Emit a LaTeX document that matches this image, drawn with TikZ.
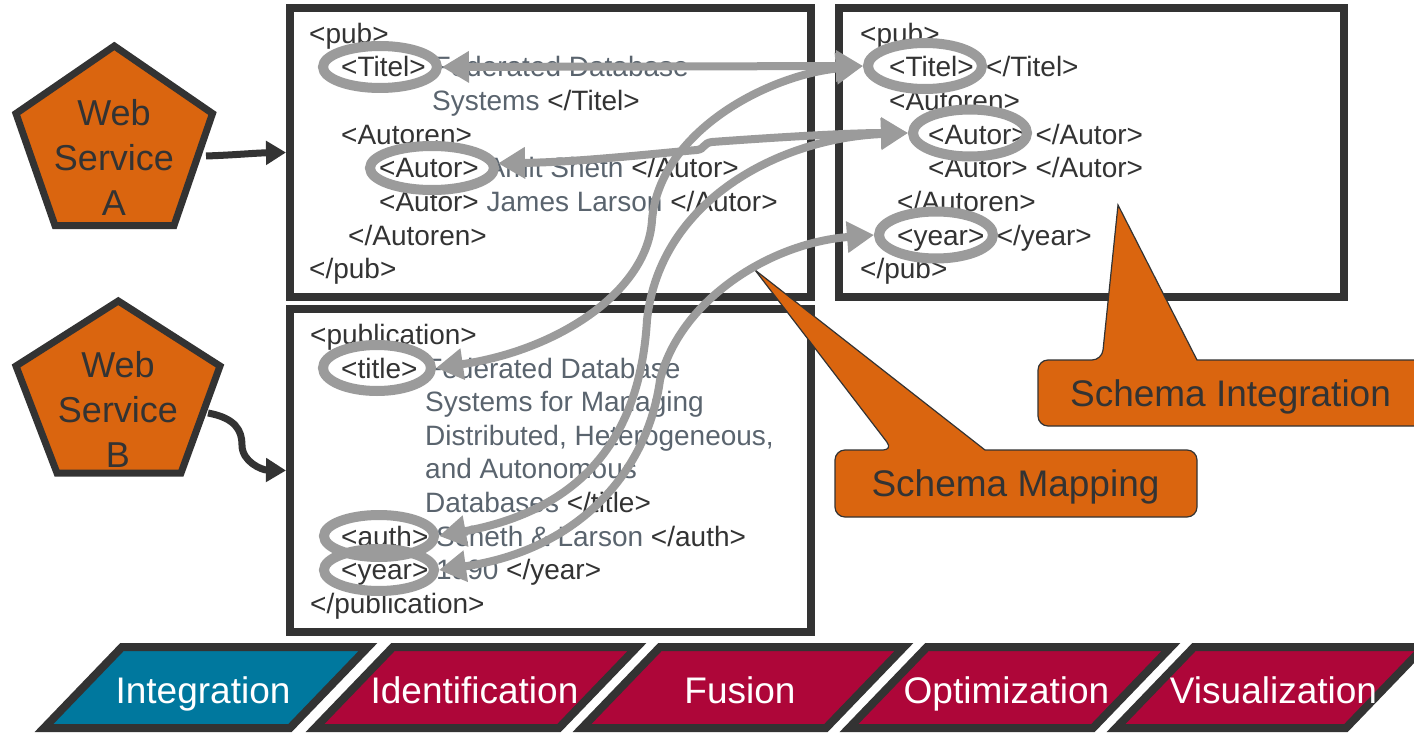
\documentclass[tikz,border=0pt]{standalone}
\usepackage{fontspec}
\setmainfont{Liberation Sans}
\usetikzlibrary{arrows.meta,shapes.geometric}
\definecolor{dk}{HTML}{333333}
\definecolor{gy}{HTML}{5A646E}
\definecolor{gr}{HTML}{9B9B9B}
\definecolor{orng}{HTML}{DA650F}
\definecolor{blu}{HTML}{00789E}
\definecolor{crim}{HTML}{AE0639}
\newcommand\graytxt[1]{\textcolor{gy}{#1}}
\begin{document}
\begin{tikzpicture}[x=1pt,y=-1pt,
  xbox/.style={draw=dk, line width=8pt, fill=white, inner sep=0pt},
  tx/.style={anchor=base west, inner sep=0pt, font=\fontsize{28}{33.6}\selectfont, text=dk},
  ell/.style={ellipse, draw=gr, line width=10pt, inner sep=0pt},
  conn/.style={draw=gr, line width=8pt, {Triangle[length=27pt,width=30pt]}-{Triangle[length=27pt,width=30pt]}},
  darr/.style={draw=dk, line width=7pt, -{Triangle[length=20pt,width=23pt]}},
  pent/.style={fill=orng, draw=dk, line width=7pt, line join=miter},
  wstxt/.style={align=center, font=\fontsize{36}{45}\selectfont, text=dk, inner sep=0pt},
  callout/.style={fill=orng, draw=dk, line width=1.2pt},
  lbl/.style={font=\fontsize{37}{44}\selectfont, text=dk, inner sep=0pt, anchor=base},
  bar/.style={draw=dk, line width=8pt, line join=miter},
  bartxt/.style={font=\fontsize{37}{44}\selectfont, text=white, inner sep=0pt, anchor=base}]
\useasboundingbox (0,0) rectangle (1414,733);
\clip (0,0) rectangle (1414,733);
\fill[white] (0,0) rectangle (1414,733);

% boxes
\node[xbox, minimum width=521pt, minimum height=289pt] (boxTL) at (550.5,152.5) {};
\node[xbox, minimum width=521pt, minimum height=323pt] (boxBL) at (550.5,470.5) {};
\node[xbox, minimum width=505pt, minimum height=289pt] (boxTR) at (1091.5,152.5) {};

% top-left text
\node[tx] (tl1) at (309,43.4) {<pub>};
\node[tx] (tl2) at (341,77) {<Titel> \graytxt{Federated Database}};
\node[tx] (tl3) at (432,110.6) {\graytxt{Systems} </Titel>};
\node[tx] (tl4) at (341,144.2) {<Autoren>};
\node[tx] (tl5) at (379,177.8) {<Autor> \graytxt{Amit Sheth} </Autor>};
\node[tx] (tl6) at (379,211.4) {<Autor> \graytxt{James Larson} </Autor>};
\node[tx] (tl7) at (348,245) {</Autoren>};
\node[tx] (tl8) at (309,278.6) {</pub>};

% top-right text
\node[tx] (tr1) at (860,43.4) {<pub>};
\node[tx] (tr2) at (889,77) {<Titel> \,</Titel>};
\node[tx] (tr3) at (889,110.6) {<Autoren>};
\node[tx] (tr4) at (928,144.2) {<Autor> </Autor>};
\node[tx] (tr5) at (928,177.8) {<Autor> </Autor>};
\node[tx] (tr6) at (897,211.4) {</Autoren>};
\node[tx] (tr7) at (897,245) {<year> \,</year>};
\node[tx] (tr8) at (860,278.6) {</pub>};

% bottom-left text
\node[tx] (bl1) at (310,344.5) {<publication>};
\node[tx] (bl2) at (341,378.1) {<title> \graytxt{Federated Database}};
\node[tx] (bl3) at (425,411.7) {\graytxt{Systems for Managing}};
\node[tx] (bl4) at (425,445.3) {\graytxt{Distributed, Heterogeneous,}};
\node[tx] (bl5) at (425,478.9) {\graytxt{and Autonomous}};
\node[tx] (bl6) at (425,512.5) {\graytxt{Databases} </title>};
\node[tx] (bl7) at (341,546.1) {<auth> \graytxt{Scheth \& Larson} </auth>};
\node[tx] (bl8) at (341,579.7) {<year> \graytxt{1990} </year>};
\node[tx] (bl9) at (310,613.3) {</publication>};

% web services
\draw[pent] (114.3,46) -- (212.5,113.5) -- (174,225.5) -- (55,225.5) -- (16,113.5) -- cycle;
\node[wstxt] (wsA) at (114,157) {Web\\Service\\A};
\draw[pent] (118.3,301) -- (220,366) -- (181,473) -- (57,473) -- (16,366) -- cycle;
\node[wstxt] (wsB) at (118,409) {Web\\Service\\B};
\coordinate (wsAo) at (206,156);
\coordinate (wsBo) at (208,413);
\draw[darr] (wsAo) .. controls (235,155) and (255,153) .. (boxTL.west);
\draw[darr] (wsBo) .. controls (235,418) and (242,430) .. (242,445) .. controls (242,462) and (262,470) .. (boxBL.west);

% callouts
\draw[callout] (1197,483) [rounded corners=10pt] -- (1197,517) -- (835,517) -- (835,450) -- (893,450) [sharp corners] -- (755,270) -- (985,450) [rounded corners=10pt] -- (1197,450) -- cycle;
\node[lbl] (smap) at (1015.5,496) {Schema Mapping};
\draw[callout] (1430,393) [rounded corners=10pt] -- (1430,426) -- (1038,426) -- (1038,360) -- (1102,360) [sharp corners] -- (1118,205) -- (1197,360) [rounded corners=10pt] -- (1430,360) -- cycle;
\node[lbl] (sint) at (1230.5,406.5) {Schema Integration};

% ellipses
\node[ell, minimum width=114pt, minimum height=42pt] (eTitA) at (380,67) {};
\node[ell, minimum width=124pt, minimum height=44pt] (eAutA) at (432,168) {};
\node[ell, minimum width=114pt, minimum height=46pt] (eTitR) at (925,66) {};
\node[ell, minimum width=114pt, minimum height=47pt] (eAutR) at (970,133) {};
\node[ell, minimum width=114pt, minimum height=47pt] (eYearR) at (936,235) {};
\node[ell, minimum width=108pt, minimum height=46pt] (eTitB) at (377,368) {};
\node[ell, minimum width=110pt, minimum height=42pt] (eAuthB) at (379,536) {};
\node[ell, minimum width=110pt, minimum height=42pt] (eYearB) at (379,570) {};

% connectors
\draw[conn] (eTitA.east) -- (eTitR.west);
\draw[conn] (eAutA.4) .. controls (580,162) and (650,154) .. (697,150) .. controls (705,149) and (703,143) .. (712,142) .. controls (780,137) and (850,133) .. (eAutR.west);
\draw[conn] (eTitR.west) .. controls (770,75) and (660,130) .. (652,220) .. controls (648,290) and (560,350) .. (eTitB.east);
\draw[conn] (eAutR.west) .. controls (780,138) and (660,200) .. (647,320) .. controls (640,440) and (580,510) .. (eAuthB.east);
\draw[conn] (eYearR.west) .. controls (770,243) and (680,300) .. (660,380) .. controls (648,470) and (580,550) .. (eYearB.east);

% bottom bar
\draw[bar, fill=blu] (122,647) -- (368,647) -- (290,728) -- (44,728) -- cycle;
\draw[bar, fill=crim] (393,647) -- (637,647) -- (559,728) -- (315,728) -- cycle;
\draw[bar, fill=crim] (660,647) -- (904,647) -- (826,728) -- (582,728) -- cycle;
\draw[bar, fill=crim] (927,647) -- (1171,647) -- (1093,728) -- (849,728) -- cycle;
\draw[bar, fill=crim] (1194,647) -- (1424,647) -- (1346,728) -- (1116,728) -- cycle;
\node[bartxt] (b1) at (203,703) {Integration};
\node[bartxt] (b2) at (474.5,703) {Identification};
\node[bartxt] (b3) at (740,703) {Fusion};
\node[bartxt] (b4) at (1006.5,703) {Optimization};
\node[bartxt] (b5) at (1273.5,703) {Visualization};
\end{tikzpicture}
\end{document}
